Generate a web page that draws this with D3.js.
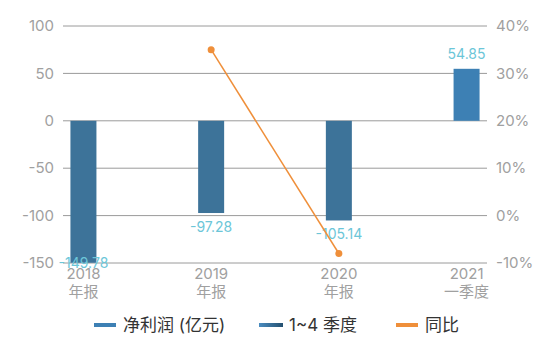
<!DOCTYPE html>
<html>
<head>
<meta charset="utf-8">
<script src="https://cdn.jsdelivr.net/npm/d3@7"></script>
<style>
  body { margin: 0; background: #fff; }
  svg { display: block; font-family: Inter, "Noto Sans CJK SC", sans-serif; }
</style>
</head>
<body>
<svg id="chart"></svg>
<script>
// dữ liệu
const years = ["2018", "2019", "2020", "2021"];
const periods = ["年报", "年报", "年报", "一季度"];
const profit = [-149.78, -97.28, -105.14, 54.85];
const yoy = [null, 35, -8, null];
const leftTicks = [100, 50, 0, -50, -100, -150];
const rightTicks = [40, 30, 20, 10, 0, -10];
const legendNames = ["净利润 (亿元)", "1~4 季度", "同比"];

const W = 554, H = 353;
const margin = { top: 26, right: 67, bottom: 90, left: 63 };
const width = W - margin.left - margin.right;
const height = H - margin.top - margin.bottom;

const svg = d3.select("#chart").attr("width", W).attr("height", H);
const g = svg.append("g").attr("transform", `translate(${margin.left},${margin.top})`);

const x = d3.scalePoint().domain(years).range([0, width]).padding(0.16);
const yL = d3.scaleLinear().domain([-150, 100]).range([height, 0]);
const yR = d3.scaleLinear().domain([-10, 40]).range([height, 0]);

// lưới
g.selectAll(".grid").data(leftTicks).enter().append("line")
  .attr("x1", 0).attr("x2", width)
  .attr("y1", d => yL(d)).attr("y2", d => yL(d))
  .attr("stroke", "#9a9a9a").attr("stroke-width", 1);

// trục trái
g.selectAll(".lt").data(leftTicks).enter().append("text")
  .attr("x", -9).attr("y", d => yL(d)).attr("dy", "0.35em")
  .attr("text-anchor", "end").attr("fill", "#a0a0a0").style("font-size", "15px")
  .text(d => d);

// trục phải
g.selectAll(".rt").data(rightTicks).enter().append("text")
  .attr("x", width + 9).attr("y", d => yR(d)).attr("dy", "0.35em")
  .attr("text-anchor", "start").attr("fill", "#a0a0a0").style("font-size", "15px")
  .text(d => d + "%");

// nhãn trục x
years.forEach((yr, i) => {
  const t = g.append("text").attr("text-anchor", "middle")
    .attr("fill", "#a0a0a0").style("font-size", "15px")
    .attr("x", x(yr));
  t.append("tspan").attr("x", x(yr)).attr("y", height + 16).text(yr);
  t.append("tspan").attr("x", x(yr)).attr("y", height + 34).text(periods[i]);
});

// cột
const bw = 26;
g.selectAll(".bar").data(profit).enter().append("rect")
  .attr("x", (d, i) => x(years[i]) - bw / 2)
  .attr("width", bw)
  .attr("y", d => yL(Math.max(0, d)))
  .attr("height", d => Math.abs(yL(d) - yL(0)))
  .attr("fill", (d, i) => i === 3 ? "#3d80b4" : "#3d7399");

// nhãn giá trị
g.selectAll(".val").data(profit).enter().append("text")
  .attr("x", (d, i) => x(years[i]))
  .attr("y", d => d >= 0 ? yL(d) - 15 : Math.min(yL(d) + 14, height))
  .attr("dy", "0.35em")
  .attr("text-anchor", "middle").attr("fill", "#6cc6d8").style("font-size", "14px")
  .text(d => d.toFixed(2));

// đường đồng tỷ
const pts = yoy.map((v, i) => ({ k: years[i], v })).filter(d => d.v != null);
g.append("path").datum(pts)
  .attr("fill", "none").attr("stroke", "#ef8f3a").attr("stroke-width", 1.5)
  .attr("d", d3.line().x(d => x(d.k)).y(d => yR(d.v)));
g.selectAll(".dot").data(pts).enter().append("circle")
  .attr("cx", d => x(d.k)).attr("cy", d => yR(d.v)).attr("r", 3.5)
  .attr("fill", "#ef8f3a");

// chú thích
const defs = svg.append("defs");
const grad = defs.append("linearGradient").attr("id", "lg");
grad.append("stop").attr("offset", "0%").attr("stop-color", "#4a8cc0");
grad.append("stop").attr("offset", "100%").attr("stop-color", "#24506f");

const legendX = [94, 259, 396];
const swatch = ["#3d80b4", "url(#lg)", "#ef8f3a"];
const leg = svg.append("g").attr("transform", "translate(0,325)");
legendNames.forEach((name, i) => {
  leg.append("rect").attr("x", legendX[i]).attr("y", -2).attr("width", i === 1 ? 24 : 22).attr("height", 4)
    .attr("fill", swatch[i]);
  leg.append("text").attr("x", legendX[i] + (i === 1 ? 30 : 29)).attr("y", 0).attr("dy", "0.35em")
    .attr("fill", "#333").style("font-size", "17px").text(name);
});
</script>
</body>
</html>
